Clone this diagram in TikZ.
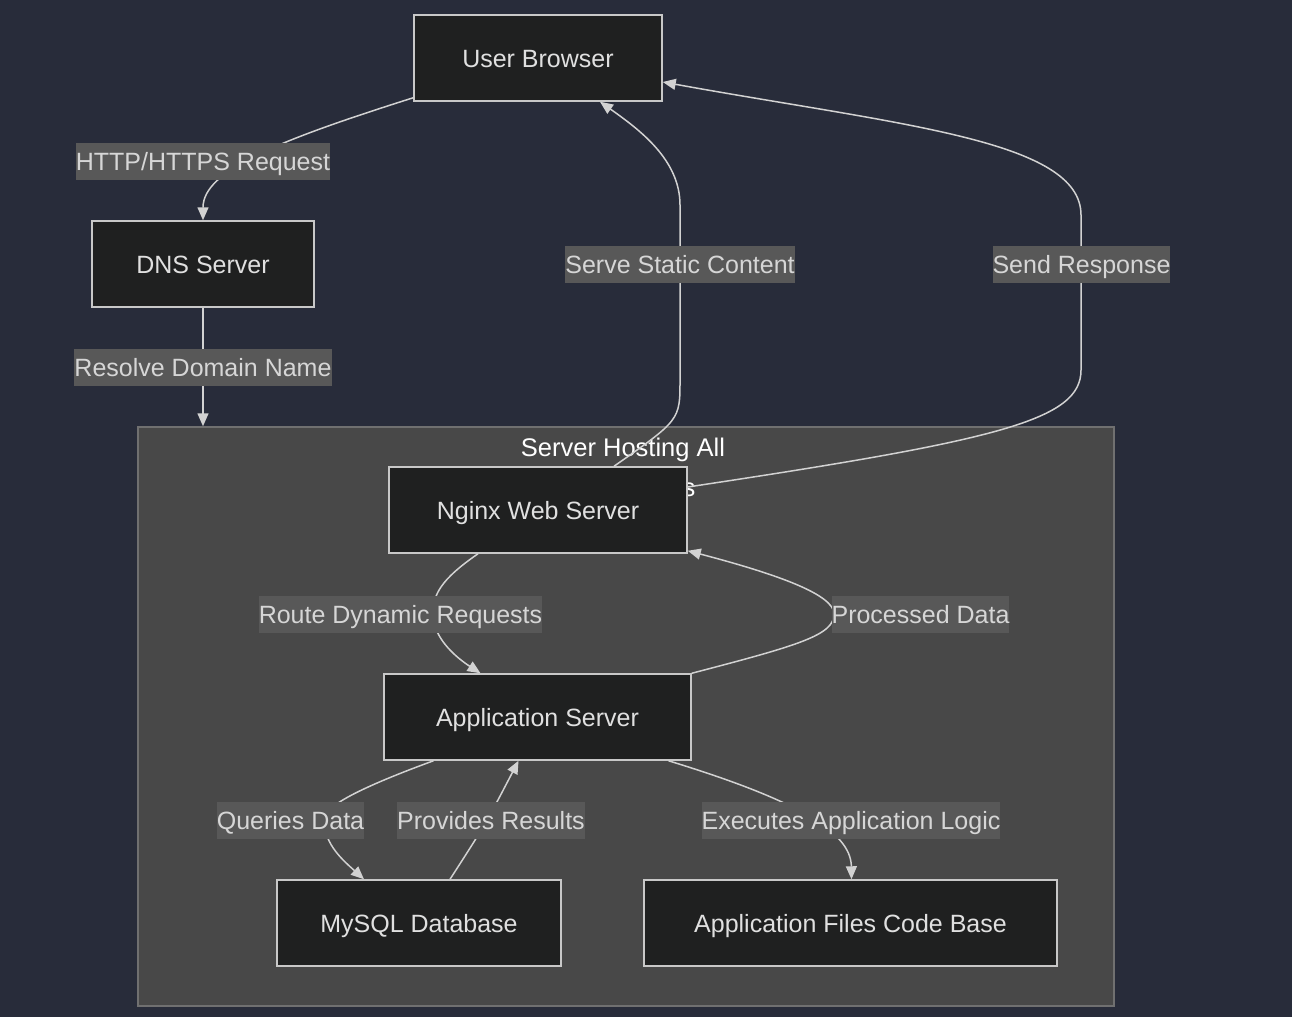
\documentclass[tikz,border=0pt]{standalone}
\usepackage{fontspec}
\setmainfont{Liberation Sans}
\usetikzlibrary{arrows.meta,calc,positioning}

\definecolor{bgcol}{RGB}{40,44,58}
\definecolor{groupfill}{RGB}{72,72,72}
\definecolor{groupline}{RGB}{112,112,112}
\definecolor{boxfill}{RGB}{31,32,32}
\definecolor{boxline}{RGB}{200,200,200}
\definecolor{boxtext}{RGB}{224,224,224}
\definecolor{lblfill}{RGB}{88,88,88}
\definecolor{lbltext}{RGB}{214,214,214}
\definecolor{edgecol}{RGB}{210,210,210}

\begin{document}
\begin{tikzpicture}[x=1pt, y=-1pt,
      font=\fontsize{25}{29}\selectfont,
      box/.style={draw=boxline, fill=boxfill, line width=1.5pt, text=boxtext,
        minimum height=86pt, inner sep=0pt, text height=20pt, text depth=2pt},
      lbl/.style={fill=lblfill, text=lbltext, inner xsep=0pt, inner ysep=7.5pt,
        text height=20pt, text depth=2pt},
      edge/.style={draw=edgecol, line width=1.5pt,
        -{Triangle[length=13pt,width=11pt]}}]

      % canvas and the group box
      \fill[bgcol] (0,0) rectangle (1292,1017);
      \useasboundingbox (0,0) rectangle (1292,1017);
      \node[draw=groupline, fill=groupfill, line width=1.5pt, minimum width=976pt,
        minimum height=579pt, inner sep=0pt] (cluster) at (626,716.5) {};
      \node[text=white, align=center, font=\fontsize{25.5}{40}\selectfont]
        (title) at (623,470) {Server Hosting All\\Components};

      % boxes
      \node[box, minimum width=248pt] (browser) at (538,58) {User Browser};
      \node[box, minimum width=222pt] (dns) at (203,264) {DNS Server};
      \node[box, minimum width=298pt] (nginx) at (538,510) {Nginx Web Server};
      \node[box, minimum width=307pt] (appsrv) at (537.5,717) {Application Server};
      \node[box, minimum width=284pt] (mysql) at (419,923) {MySQL Database};
      \node[box, minimum width=413pt] (files) at (850.5,923) {Application Files Code Base};

      % connectors
      \draw[edge] ($(browser.south west)+(0,-4)$) .. controls (280,140) and (203,170) .. (dns.north);
      \draw[edge] (dns.south) -- (dns.south |- cluster.north);
      \draw[edge] ($(nginx.north)+(76,0)$) .. controls (680,420) .. (680,380) -- (680,205)
        .. controls (680,160) and (640,130) .. ($(browser.south)+(62,0)$);
      \draw[edge] ($(nginx.east)+(0,-23)$) .. controls (1000,440) and (1081,420) .. (1081,370)
        -- (1081,215) .. controls (1081,140) and (900,125) .. ($(browser.east)+(0,24)$);
      \draw[edge] ($(nginx.south)+(-60,0)$) .. controls (440,580) and (433,595) .. (433,614)
        .. controls (433,640) and (460,660) .. ($(appsrv.north)+(-57,0)$);
      \draw[edge] (appsrv.north east) .. controls (800,645) and (834,635) .. (834,614)
        .. controls (834,595) and (780,575) .. ($(nginx.south east)+(0,-3)$);
      \draw[edge] ($(appsrv.south)+(-104,0)$) .. controls (340,795) and (324,810) .. (324,820)
        .. controls (324,845) and (345,862) .. ($(mysql.north)+(-55,0)$);
      \draw[edge] ($(mysql.north)+(31,0)$) .. controls (485,825) .. ($(appsrv.south)+(-19,0)$);
      \draw[edge] ($(appsrv.south)+(131,0)$) .. controls (790,798) and (851,830) .. ($(files.north)+(1,0)$);

      % edge labels
      \node[lbl] (lblhttp) at (203,161) {HTTP/HTTPS Request};
      \node[lbl] (lbldns) at (203,367) {Resolve Domain Name};
      \node[lbl] (lblstatic) at (680,264) {Serve Static Content};
      \node[lbl] (lblsend) at (1081.5,264) {Send Response};
      \node[lbl] (lblroute) at (400.5,614) {Route Dynamic Requests};
      \node[lbl] (lblproc) at (920.5,614) {Processed Data};
      \node[lbl] (lblquery) at (290.5,820) {Queries Data};
      \node[lbl] (lblres) at (491,820) {Provides Results};
      \node[lbl] (lblexec) at (851,820) {Executes Application Logic};
\end{tikzpicture}
\end{document}
